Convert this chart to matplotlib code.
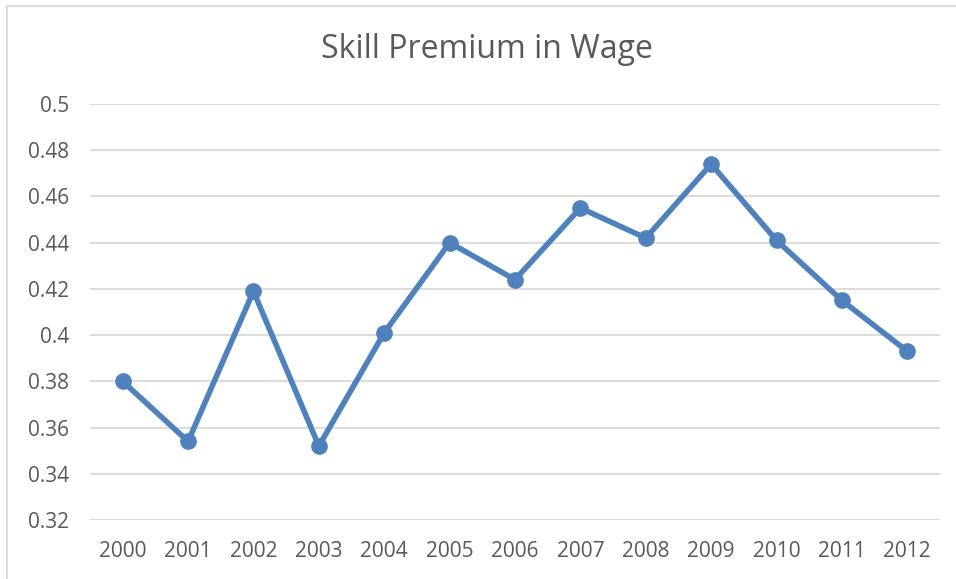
import matplotlib
matplotlib.use('Agg')
import matplotlib.pyplot as plt
from matplotlib.lines import Line2D

years = ['2000', '2001', '2002', '2003', '2004', '2005', '2006',
         '2007', '2008', '2009', '2010', '2011', '2012']
premium = [0.380, 0.354, 0.419, 0.352, 0.401, 0.440, 0.424,
           0.455, 0.442, 0.474, 0.441, 0.415, 0.393]
yticks = [0.32, 0.34, 0.36, 0.38, 0.40, 0.42, 0.44, 0.46, 0.48, 0.50]

plt.rcParams['font.family'] = ['Open Sans', 'DejaVu Sans']

fig = plt.figure(figsize=(9.56, 5.79), dpi=100)
ax = fig.add_axes([90 / 956, 1 - 520 / 579, 850 / 956, 416 / 579])

x = list(range(len(years)))
ax.plot(x, premium, color='#4F81BD', lw=4, marker='o', ms=11,
        solid_capstyle='round', solid_joinstyle='round', zorder=3)

ax.set_xlim(-0.5, len(years) - 0.5)
ax.set_ylim(0.32, 0.50)
ax.set_yticks(yticks)
ax.set_yticklabels(['%g' % v for v in yticks])
ax.set_xticks(x)
ax.set_xticklabels(years)
ax.grid(axis='y', color='#D9D9D9', lw=1.3)
ax.set_axisbelow(True)
for s in ax.spines.values():
    s.set_visible(False)
ax.tick_params(length=0, labelsize=15, labelcolor='#595959')
ax.tick_params(axis='y', pad=15)
ax.tick_params(axis='x', pad=15)

fig.text(487 / 956, 1 - 50 / 579, 'Skill Premium in Wage', ha='center', va='center',
         fontsize=23, color='#595959')

# chart border (top and left visible)
fig.add_artist(Line2D([7 / 956, 1], [1 - 6 / 579] * 2, color='#D9D9D9', lw=1.3))
fig.add_artist(Line2D([7 / 956] * 2, [0, 1 - 6 / 579], color='#D9D9D9', lw=1.3))

fig.savefig('out.png', dpi=100)
